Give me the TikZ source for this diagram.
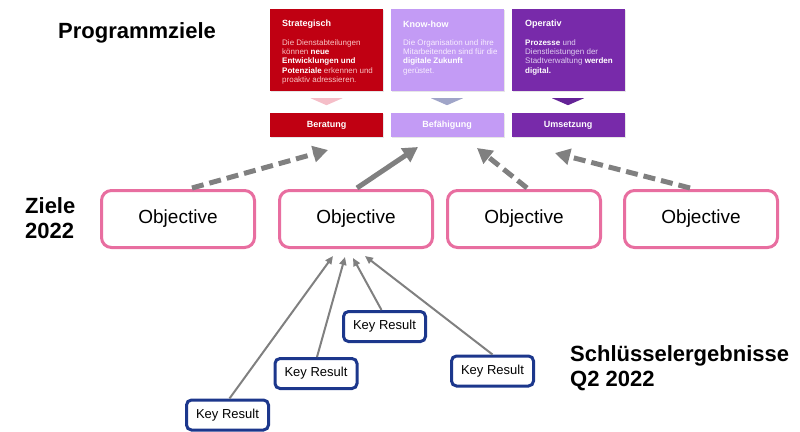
\documentclass[tikz,border=0pt]{standalone}
\usepackage{fontspec}
\setmainfont{Liberation Sans}
\usetikzlibrary{arrows.meta,shadows,calc}
\definecolor{cred}{RGB}{192,0,18}
\definecolor{clav}{RGB}{195,155,245}
\definecolor{cpur}{RGB}{120,42,170}
\definecolor{cpink}{RGB}{232,110,160}
\definecolor{cblue}{RGB}{28,55,140}
\definecolor{cgray}{RGB}{128,128,128}
\definecolor{tred}{RGB}{248,195,195}
\definecolor{tlav}{RGB}{248,238,255}
\definecolor{tpur}{RGB}{222,205,240}
\definecolor{trired}{RGB}{245,190,200}
\definecolor{trilav}{RGB}{160,165,200}
\definecolor{tripur}{RGB}{100,35,150}
\begin{document}
\begin{tikzpicture}[x=1pt,y=-1pt,
  heading/.style={font=\fontsize{22}{25}\selectfont\bfseries, inner sep=0pt, align=left, anchor=west},
  topbox/.style={minimum width=113pt, minimum height=82pt, inner sep=0pt,
     drop shadow={opacity=0.2, shadow xshift=1pt, shadow yshift=-1pt}},
  lowbox/.style={minimum width=113pt, minimum height=24pt, inner sep=0pt, text=white,
     font=\fontsize{9}{10}\selectfont\bfseries,
     drop shadow={opacity=0.2, shadow xshift=1pt, shadow yshift=-1pt}},
  boxtitle/.style={inner sep=0pt, anchor=west, text=white, font=\fontsize{9}{10}\selectfont\bfseries},
  boxbody/.style={inner sep=0pt, anchor=north west, align=left, font=\fontsize{8}{9.2}\selectfont},
  objective/.style={draw=cpink, line width=3pt, rounded corners=10pt, fill=white,
     minimum width=153pt, minimum height=57pt, inner sep=0pt, font=\fontsize{19}{22}\selectfont},
  keyres/.style={draw=cblue, line width=3pt, rounded corners=5pt, fill=white,
     minimum width=82pt, minimum height=30pt, inner sep=0pt, font=\fontsize{13}{15}\selectfont},
  bigarrow/.style={draw=cgray, line width=5pt, -{Triangle[length=15pt,width=16pt]}},
  dasharrow/.style={bigarrow, dash pattern=on 12pt off 6pt},
  thinarrow/.style={draw=cgray, line width=2pt, -{Triangle[length=8pt,width=7pt]}},
  tri/.style={draw=none}
]
\useasboundingbox (0,0) rectangle (800,431);

% headings
\node[heading] (hprog) at (58,33) {Programmziele};
\node[heading] (hziele) at (25,218) {Ziele\\2022};
\node[heading] (hkr) at (570,368) {Schlüsselergebnisse\\Q2 2022};

% top boxes
\node[topbox, fill=cred] (b1) at (326.5,50) {};
\node[topbox, fill=clav] (b2) at (447,50) {};
\node[topbox, fill=cpur] (b3) at (568,50) {};

\node[boxtitle] (t1) at (282,24) {Strategisch};
\node[boxbody, text=tred] (d1) at (282,39.5) {Die Dienstabteilungen\\können {\color{white}\bfseries neue}\\{\color{white}\bfseries Entwicklungen und}\\{\color{white}\bfseries Potenziale} erkennen und\\proaktiv adressieren.};

\node[boxtitle] (t2) at (403,24) {Know-how};
\node[boxbody, text=tlav] (d2) at (403,39.5) {Die Organisation und ihre\\Mitarbeitenden sind für die\\{\color{white}\bfseries digitale Zukunft}\\gerüstet.};

\node[boxtitle] (t3) at (525,24) {Operativ};
\node[boxbody, text=tpur] (d3) at (525,39.5) {{\color{white}\bfseries Prozesse} und\\Dienstleistungen der\\Stadtverwaltung {\color{white}\bfseries werden}\\{\color{white}\bfseries digital.}};

% small triangles
\fill[trired] ($(b1.south)+(-16,7)$) -- ($(b1.south)+(16,7)$) -- ($(b1.south)+(0,14)$) -- cycle;
\fill[trilav] ($(b2.south)+(-16,7)$) -- ($(b2.south)+(16,7)$) -- ($(b2.south)+(0,14)$) -- cycle;
\fill[tripur] ($(b3.south)+(-16,7)$) -- ($(b3.south)+(16,7)$) -- ($(b3.south)+(0,14)$) -- cycle;

% lower boxes
\node[lowbox, fill=cred] (l1) at (326.5,125) {Beratung};
\node[lowbox, fill=clav] (l2) at (447,125) {Befähigung};
\node[lowbox, fill=cpur] (l3) at (568,125) {Umsetzung};

% objectives
\node[objective] (o1) at (178,219) {Objective};
\node[objective] (o2) at (356,219) {Objective};
\node[objective] (o3) at (524,219) {Objective};
\node[objective] (o4) at (701,219) {Objective};

% arrow targets
\coordinate (a1) at (328,150);
\coordinate (a2) at (418,147);
\coordinate (a3) at (477,148);
\coordinate (a4) at (555,153);

\draw[dasharrow] ($(o1.north)+(14,-1)$) -- (a1);
\draw[bigarrow] ($(o2.north)+(1,-1)$) -- (a2);
\draw[dasharrow] ($(o3.north)+(3,-1)$) -- (a3);
\draw[dasharrow] ($(o4.north)+(-11,-1)$) -- (a4);

% key results
\node[keyres] (k1) at (227.5,415) {Key Result};
\node[keyres] (k2) at (316,373.5) {Key Result};
\node[keyres] (k3) at (384.5,326.5) {Key Result};
\node[keyres] (k4) at (492.5,371) {Key Result};

\coordinate (e1) at (333,256);
\coordinate (e2) at (345,257);
\coordinate (e3) at (353,258);
\coordinate (e4) at (365,256);

\draw[thinarrow] ($(k1.north)+(2,0)$) -- (e1);
\draw[thinarrow] ($(k2.north)+(1,0)$) -- (e2);
\draw[thinarrow] ($(k3.north)+(-3,0)$) -- (e3);
\draw[thinarrow] ($(k4.north)+(0,0)$) -- (e4);
\end{tikzpicture}
\end{document}
